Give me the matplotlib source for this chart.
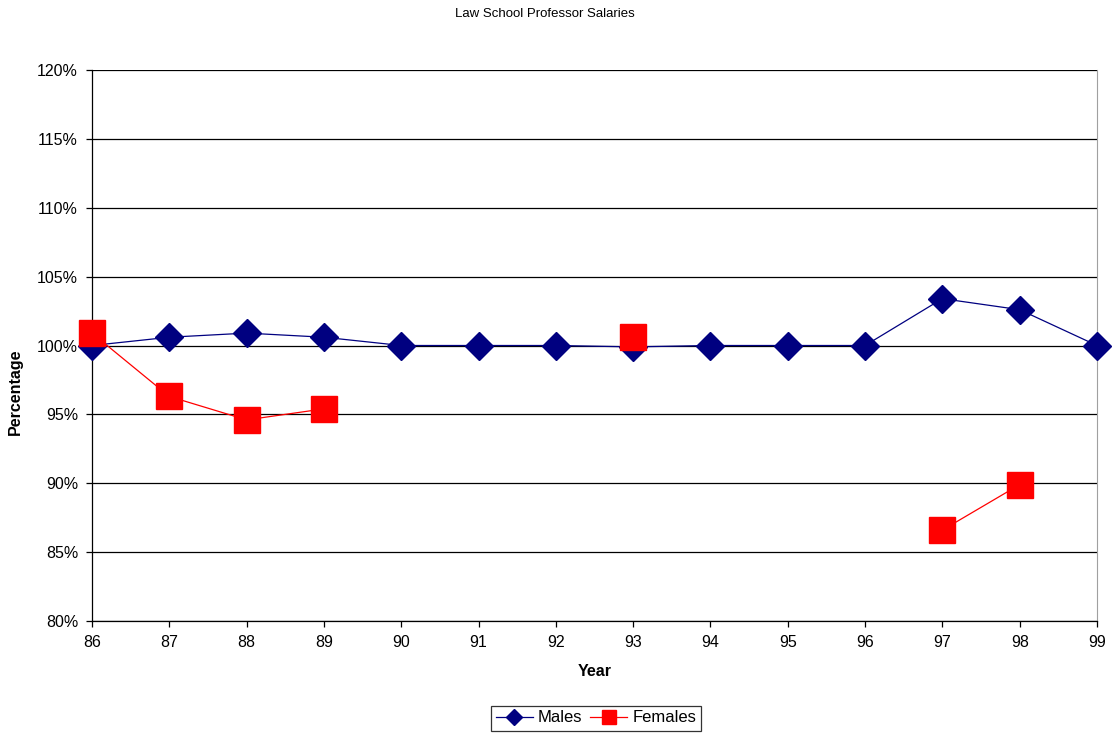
import numpy as np
import matplotlib.pyplot as plt

years = [86, 87, 88, 89, 90, 91, 92, 93, 94, 95, 96, 97, 98, 99]
year_labels = [str(y) for y in years]
males = [100.0, 100.6, 100.9, 100.6, 100.0, 100.0, 100.0, 99.9, 100.0, 100.0, 100.0, 103.4, 102.6, 100.0]
females = [100.9, 96.3, 94.6, 95.4, np.nan, np.nan, np.nan, 100.6, np.nan, np.nan, np.nan, 86.6, 89.9, np.nan]
yticks = [80, 85, 90, 95, 100, 105, 110, 115, 120]

plt.rcParams['font.family'] = ['Liberation Sans', 'DejaVu Sans']

fig = plt.figure(figsize=(11.12, 7.33), dpi=100)
ax = fig.add_axes([92 / 1112, 1 - 621 / 733, (1097 - 92) / 1112, (621 - 70) / 733])

for y in yticks:
    ax.axhline(y, color='black', lw=0.9, zorder=1)

ax.plot(years, males, color='#000080', lw=0.9, marker='D', markersize=14,
        markeredgecolor='#000080', label='Males', zorder=3, clip_on=False)
ax.plot(years, females, color='#ff0000', lw=0.9, marker='s', markersize=19,
        markeredgecolor='#ff0000', label='Females', zorder=4, clip_on=False)

ax.set_xlim(86, 99)
ax.set_ylim(80, 120)
ax.set_xticks(years)
ax.set_xticklabels(year_labels)
ax.set_yticks(yticks)
ax.set_yticklabels([f'{y}%' for y in yticks])
ax.tick_params(labelsize=11.5, length=4, width=0.9, color='black', pad=6)

ax.spines['top'].set_visible(False)
ax.spines['right'].set_color('#a0a0a0')
ax.spines['left'].set_linewidth(0.9)
ax.spines['bottom'].set_linewidth(0.9)

ax.set_xlabel('Year', fontsize=11.5, fontweight='bold', labelpad=10)
fig.text(0.014, 0.465, 'Percentage', rotation=90, fontsize=11.5, fontweight='bold', ha='center', va='center')
fig.text(0.49, 0.981, 'Law School Professor Salaries', fontsize=9.5, ha='center', va='center')

leg = ax.legend(loc='center', bbox_to_anchor=(596 / 1112, 1 - 718 / 733),
                bbox_transform=fig.transFigure, ncol=2, fontsize=12, frameon=True,
                fancybox=False, edgecolor='black', handlelength=2.2, columnspacing=0.5,
                handletextpad=0.3, borderpad=0.3, markerscale=0.55)
leg.get_frame().set_linewidth(0.9)

plt.savefig('out.png', dpi=100)
